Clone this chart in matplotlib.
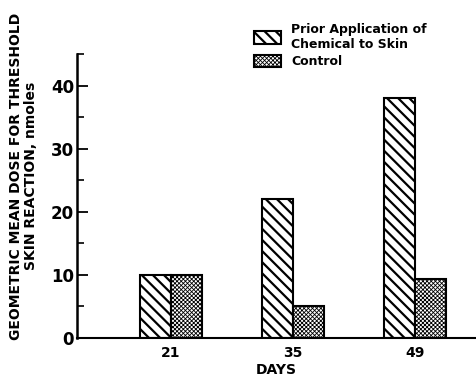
import matplotlib
matplotlib.use("Agg")
import matplotlib.pyplot as plt
import numpy as np
from matplotlib.ticker import MultipleLocator

days = ["21", "35", "49"]
prior = [10, 22, 38]
control = [10, 5, 9.3]

plt.rcParams['font.family'] = ['DejaVu Sans']
plt.rcParams['font.weight'] = 'bold'

fig = plt.figure(figsize=(4.76, 3.81), dpi=100)
ax = fig.add_axes([77 / 476, 43 / 381, 399 / 476, 284 / 381])

x = np.arange(len(days))
w = 0.256

plt.rcParams['hatch.linewidth'] = 1.6
b1 = ax.bar(x - w / 2, prior, w, facecolor='white', edgecolor='black',
            hatch='\\\\\\', linewidth=1.5, label='Prior Application of\nChemical to Skin')
plt.rcParams['hatch.linewidth'] = 0.6
b2 = ax.bar(x + w / 2, control, w, facecolor='white', edgecolor='black',
            hatch='xxxxxxxx', linewidth=1.5, label='Control')

ax.set_xlim(-0.77, 2.5)
ax.set_ylim(0, 45)
ax.set_xticks(x)
ax.set_xticklabels(days, fontsize=10, fontweight='bold')
ax.yaxis.set_major_locator(MultipleLocator(10))
ax.yaxis.set_minor_locator(MultipleLocator(5))
ax.tick_params(axis='y', which='major', direction='in', length=8, width=1.3,
               labelsize=12, pad=2)
ax.tick_params(axis='y', which='minor', direction='in', length=5, width=1.2)
ax.tick_params(axis='x', length=0, pad=6)
for lbl in ax.get_yticklabels():
    lbl.set_fontweight('bold')

ax.spines['top'].set_visible(False)
ax.spines['right'].set_visible(False)
ax.spines['left'].set_linewidth(1.8)
ax.spines['bottom'].set_linewidth(1.5)

ax.set_xlabel('DAYS', fontsize=10, fontweight='bold', labelpad=2)
ax.set_ylabel('GEOMETRIC MEAN DOSE FOR THRESHOLD\nSKIN REACTION, nmoles',
              fontsize=10, fontweight='bold', linespacing=1.1)
ax.yaxis.set_label_coords(-0.098, 0.57)

leg = fig.legend(handles=[b1, b2], loc='upper left',
                 bbox_to_anchor=(245 / 476, 1 - 14 / 381),
                 frameon=False, prop={'weight': 'bold', 'size': 9},
                 handlelength=2.2, handleheight=1.2, handletextpad=0.8,
                 labelspacing=0.3, borderpad=0.2)
for p, lw in zip(leg.get_patches(), [1.6, 0.6]):
    if hasattr(p, 'set_hatch_linewidth'):
        p.set_hatch_linewidth(lw)
    else:
        p._hatch_linewidth = lw

fig.savefig('out.png', dpi=100)
